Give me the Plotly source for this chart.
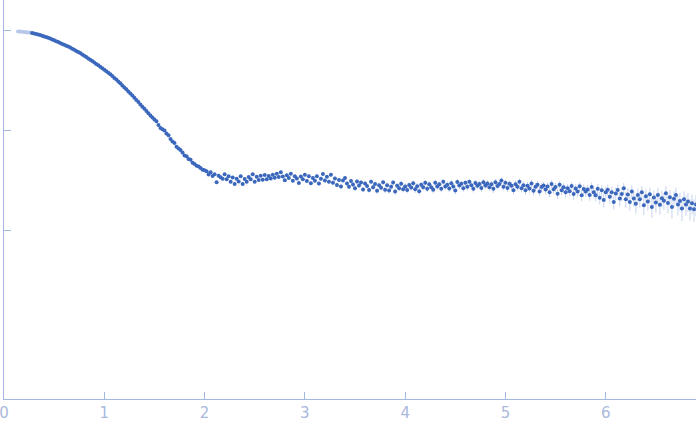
import plotly.graph_objects as go

# points left out of the fit (drawn pale)
q_excl = [0.14, 0.16, 0.18, 0.20, 0.22, 0.24, 0.26]
i_excl = [0.966, 0.964, 0.959, 0.955, 0.951, 0.946, 0.942]
err_excl = [0.0042, 0.0042, 0.0041, 0.0041, 0.0041, 0.0040, 0.0040]

q = [
    0.28, 0.30, 0.32, 0.34, 0.36, 0.38, 0.40, 0.42, 0.44, 0.46,
    0.48, 0.50, 0.52, 0.54, 0.56, 0.58, 0.60, 0.62, 0.64, 0.66,
    0.68, 0.70, 0.72, 0.74, 0.76, 0.78, 0.80, 0.82, 0.84, 0.86,
    0.88, 0.90, 0.92, 0.94, 0.96, 0.98, 1.00, 1.02, 1.04, 1.06,
    1.08, 1.10, 1.12, 1.14, 1.16, 1.18, 1.20, 1.22, 1.24, 1.26,
    1.28, 1.30, 1.32, 1.34, 1.36, 1.38, 1.40, 1.42, 1.44, 1.46,
    1.48, 1.50, 1.52, 1.54, 1.56, 1.58, 1.60, 1.62, 1.64, 1.66,
    1.68, 1.70, 1.72, 1.74, 1.76, 1.78, 1.80, 1.82, 1.84, 1.86,
    1.88, 1.90, 1.92, 1.94, 1.96, 1.98, 2.00,
    2.02, 2.04, 2.06, 2.08, 2.10, 2.12, 2.14, 2.16, 2.18, 2.20,
    2.22, 2.24, 2.26, 2.28, 2.30, 2.32, 2.34, 2.36, 2.38, 2.40,
    2.42, 2.44, 2.46, 2.48, 2.50, 2.52, 2.54, 2.56, 2.58, 2.60,
    2.62, 2.64, 2.66, 2.68, 2.70, 2.72, 2.74, 2.76, 2.78, 2.80,
    2.82, 2.84, 2.86, 2.88, 2.90, 2.92, 2.94, 2.96, 2.98, 3.00,
    3.02, 3.04, 3.06, 3.08, 3.10, 3.12, 3.14, 3.16, 3.18, 3.20,
    3.22, 3.24, 3.26, 3.28, 3.30, 3.32, 3.34, 3.36, 3.38, 3.40,
    3.42, 3.44, 3.46, 3.48, 3.50, 3.52, 3.54, 3.56, 3.58, 3.60,
    3.62, 3.64, 3.66, 3.68, 3.70, 3.72, 3.74, 3.76, 3.78, 3.80,
    3.82, 3.84, 3.86, 3.88, 3.90, 3.92, 3.94, 3.96, 3.98, 4.00,
    4.02, 4.04, 4.06, 4.08, 4.10, 4.12, 4.14, 4.16, 4.18, 4.20,
    4.22, 4.24, 4.26, 4.28, 4.30, 4.32, 4.34, 4.36, 4.38, 4.40,
    4.42, 4.44, 4.46, 4.48, 4.50, 4.52, 4.54, 4.56, 4.58, 4.60,
    4.62, 4.64, 4.66, 4.68, 4.70, 4.72, 4.74, 4.76, 4.78, 4.80,
    4.82, 4.84, 4.86, 4.88, 4.90, 4.92, 4.94, 4.96, 4.98, 5.00,
    5.02, 5.04, 5.06, 5.08, 5.10, 5.12, 5.14, 5.16, 5.18, 5.20,
    5.22, 5.24, 5.26, 5.28, 5.30, 5.32, 5.34, 5.36, 5.38, 5.40,
    5.42, 5.44, 5.46, 5.48, 5.50, 5.52, 5.54, 5.56, 5.58, 5.60,
    5.62, 5.64, 5.66, 5.68, 5.70, 5.72, 5.74, 5.76, 5.78, 5.80,
    5.82, 5.84, 5.86, 5.88, 5.90, 5.92, 5.94, 5.96, 5.98, 6.00,
    6.02, 6.04, 6.06, 6.08, 6.10, 6.12, 6.14, 6.16, 6.18, 6.20,
    6.22, 6.24, 6.26, 6.28, 6.30, 6.32, 6.34, 6.36, 6.38, 6.40,
    6.42, 6.44, 6.46, 6.48, 6.50, 6.52, 6.54, 6.56, 6.58, 6.60,
    6.62, 6.64, 6.66, 6.68, 6.70, 6.72, 6.74, 6.76, 6.78, 6.80,
    6.82, 6.84, 6.86, 6.88, 6.90,
]

intensity = [
    0.931, 0.920, 0.910, 0.899, 0.891, 0.877, 0.863, 0.849, 0.836, 0.822,
    0.805, 0.789, 0.773, 0.757, 0.741, 0.726, 0.711, 0.697, 0.683, 0.667,
    0.650, 0.634, 0.618, 0.603, 0.588, 0.570, 0.553, 0.537, 0.520, 0.504,
    0.489, 0.473, 0.458, 0.444, 0.430, 0.415, 0.401, 0.387, 0.374, 0.361,
    0.346, 0.332, 0.319, 0.306, 0.293, 0.279, 0.266, 0.255, 0.243, 0.232,
    0.221, 0.210, 0.200, 0.190, 0.180, 0.171, 0.163, 0.155, 0.147, 0.140,
    0.133, 0.127, 0.122, 0.112, 0.105, 0.102, 0.099, 0.0923, 0.0885, 0.0815,
    0.0767, 0.0740, 0.0680, 0.0653, 0.0630, 0.0596, 0.0555, 0.0545, 0.0513, 0.0505,
    0.0470, 0.0457, 0.0440, 0.0432, 0.0417, 0.0400, 0.0395,
    0.0386, 0.0358, 0.0377, 0.0347, 0.0362, 0.0300, 0.0349, 0.0337, 0.0326, 0.0361,
    0.0322, 0.0344, 0.0303, 0.0335, 0.0289, 0.0325, 0.0305, 0.0345, 0.0288, 0.0323,
    0.0304, 0.0338, 0.0322, 0.0361, 0.0304, 0.0341, 0.0316, 0.0348, 0.0318, 0.0355,
    0.0321, 0.0347, 0.0327, 0.0357, 0.0333, 0.0365, 0.0339, 0.0377, 0.0343, 0.0315,
    0.0352, 0.0331, 0.0366, 0.0311, 0.0344, 0.0328, 0.0295, 0.0342, 0.0322, 0.0357,
    0.0309, 0.0345, 0.0294, 0.0332, 0.0311, 0.0345, 0.0291, 0.0326, 0.0364, 0.0312,
    0.0341, 0.0304, 0.0356, 0.0297, 0.0328, 0.0282, 0.0317, 0.0272, 0.0312, 0.0332,
    0.0292, 0.0270, 0.0309, 0.0285, 0.0262, 0.0306, 0.0279, 0.0299, 0.0254, 0.0292,
    0.0275, 0.0251, 0.0304, 0.0268, 0.0288, 0.0247, 0.0281, 0.0265, 0.0300, 0.0252,
    0.0281, 0.0248, 0.0271, 0.0298, 0.0242, 0.0277, 0.0262, 0.0290, 0.0255, 0.0273,
    0.0251, 0.0282, 0.0266, 0.0293, 0.0255, 0.0274, 0.0244, 0.0283, 0.0267, 0.0296,
    0.0259, 0.0287, 0.0268, 0.0252, 0.0297, 0.0272, 0.0286, 0.0259, 0.0303, 0.0272,
    0.0284, 0.0260, 0.0294, 0.0272, 0.0248, 0.0302, 0.0278, 0.0290, 0.0262, 0.0296,
    0.0271, 0.0303, 0.0281, 0.0259, 0.0295, 0.0277, 0.0289, 0.0263, 0.0301, 0.0279,
    0.0292, 0.0268, 0.0286, 0.0258, 0.0300, 0.0276, 0.0288, 0.0312, 0.0270, 0.0296,
    0.0263, 0.0290, 0.0277, 0.0250, 0.0287, 0.0270, 0.0303, 0.0262, 0.0281, 0.0250,
    0.0277, 0.0260, 0.0292, 0.0247, 0.0271, 0.0284, 0.0242, 0.0269, 0.0279, 0.0254,
    0.0273, 0.0238, 0.0289, 0.0256, 0.0269, 0.0230, 0.0283, 0.0250, 0.0267, 0.0238,
    0.0261, 0.0244, 0.0275, 0.0229, 0.0260, 0.0243, 0.0274, 0.0223, 0.0257, 0.0242,
    0.0254, 0.0224, 0.0269, 0.0239, 0.0223, 0.0258, 0.0210, 0.0250, 0.0199, 0.0239,
    0.0252, 0.0215, 0.0238, 0.0191, 0.0232, 0.0251, 0.0206, 0.0229, 0.0262, 0.0203,
    0.0227, 0.0190, 0.0243, 0.0206, 0.0183, 0.0224, 0.0203, 0.0238, 0.0177, 0.0218,
    0.0193, 0.0228, 0.0170, 0.0211, 0.0188, 0.0224, 0.0179, 0.0208, 0.0196, 0.0233,
    0.0186, 0.0213, 0.0170, 0.0205, 0.0224, 0.0180, 0.0195, 0.0164, 0.0203, 0.0180,
    0.0193, 0.0164, 0.0185, 0.0161, 0.0180,
]

err = [
    0.0040, 0.0039, 0.0039, 0.0038, 0.0038, 0.0037, 0.0037, 0.0036, 0.0036, 0.0035,
    0.0035, 0.0034, 0.0034, 0.0033, 0.0033, 0.0032, 0.0032, 0.0031, 0.0031, 0.0030,
    0.0030, 0.0029, 0.0029, 0.0028, 0.0028, 0.0027, 0.0027, 0.0026, 0.0026, 0.0025,
    0.0025, 0.0024, 0.0024, 0.0023, 0.0023, 0.0022, 0.0022, 0.0021, 0.0021, 0.0020,
    0.0020, 0.0019, 0.0019, 0.0018, 0.0018, 0.0017, 0.0017, 0.0016, 0.0016, 0.0015,
    0.0015, 0.0015, 0.0014, 0.0014, 0.0014, 0.0013, 0.0013, 0.0013, 0.0012, 0.0012,
    0.0012, 0.0012, 0.0011, 0.0011, 0.0011, 0.0011, 0.0011, 0.0010, 0.0010, 0.0010,
    0.0010, 0.0010, 0.0010, 0.0010, 0.0009, 0.0009, 0.0009, 0.0009, 0.0009, 0.0009,
    0.0009, 0.0009, 0.0009, 0.0009, 0.0009, 0.0009, 0.0009,
    0.0010, 0.0011, 0.0010, 0.0011, 0.0010, 0.0011, 0.0011, 0.0010, 0.0011, 0.0011,
    0.0011, 0.0010, 0.0011, 0.0011, 0.0012, 0.0011, 0.0011, 0.0012, 0.0011, 0.0012,
    0.0012, 0.0011, 0.0012, 0.0012, 0.0011, 0.0012, 0.0012, 0.0013, 0.0012, 0.0012,
    0.0012, 0.0013, 0.0012, 0.0013, 0.0013, 0.0012, 0.0013, 0.0013, 0.0013, 0.0012,
    0.0013, 0.0013, 0.0014, 0.0013, 0.0013, 0.0014, 0.0013, 0.0014, 0.0014, 0.0013,
    0.0014, 0.0014, 0.0013, 0.0014, 0.0015, 0.0014, 0.0014, 0.0015, 0.0014, 0.0015,
    0.0015, 0.0014, 0.0015, 0.0015, 0.0016, 0.0015, 0.0015, 0.0016, 0.0015, 0.0016,
    0.0016, 0.0015, 0.0016, 0.0016, 0.0017, 0.0016, 0.0016, 0.0017, 0.0016, 0.0017,
    0.0017, 0.0016, 0.0017, 0.0017, 0.0018, 0.0017, 0.0017, 0.0018, 0.0017, 0.0018,
    0.0018, 0.0017, 0.0018, 0.0018, 0.0019, 0.0018, 0.0018, 0.0019, 0.0018, 0.0019,
    0.0019, 0.0018, 0.0019, 0.0019, 0.0020, 0.0019, 0.0019, 0.0020, 0.0019, 0.0020,
    0.0020, 0.0019, 0.0020, 0.0020, 0.0021, 0.0020, 0.0020, 0.0021, 0.0020, 0.0021,
    0.0021, 0.0020, 0.0021, 0.0021, 0.0022, 0.0021, 0.0021, 0.0022, 0.0021, 0.0022,
    0.0022, 0.0021, 0.0022, 0.0022, 0.0023, 0.0022, 0.0022, 0.0023, 0.0022, 0.0023,
    0.0023, 0.0022, 0.0023, 0.0023, 0.0024, 0.0023, 0.0023, 0.0024, 0.0023, 0.0024,
    0.0024, 0.0023, 0.0024, 0.0024, 0.0025, 0.0024, 0.0024, 0.0025, 0.0024, 0.0025,
    0.0025, 0.0024, 0.0025, 0.0025, 0.0026, 0.0025, 0.0025, 0.0026, 0.0025, 0.0026,
    0.0026, 0.0025, 0.0026, 0.0026, 0.0027, 0.0026, 0.0026, 0.0027, 0.0026, 0.0027,
    0.0027, 0.0026, 0.0027, 0.0028, 0.0027, 0.0028, 0.0028, 0.0029, 0.0028, 0.0029,
    0.0029, 0.0028, 0.0030, 0.0029, 0.0030, 0.0031, 0.0030, 0.0031, 0.0032, 0.0031,
    0.0032, 0.0031, 0.0033, 0.0032, 0.0034, 0.0033, 0.0034, 0.0035, 0.0034, 0.0036,
    0.0035, 0.0034, 0.0036, 0.0035, 0.0037, 0.0036, 0.0035, 0.0037, 0.0036, 0.0038,
    0.0037, 0.0036, 0.0038, 0.0037, 0.0039, 0.0038, 0.0037, 0.0039, 0.0038, 0.0040,
    0.0039, 0.0038, 0.0040, 0.0039, 0.0041, 0.0040, 0.0039, 0.0041, 0.0040, 0.0042,
    0.0041, 0.0040, 0.0042, 0.0041, 0.0043,
]

x_ticks = [0, 1, 2, 3, 4, 5, 6]
y_ticks = [1, 0.1, 0.01]

axis_col = "#a3b6e0"
label_col = "#a9b9dc"

fig = go.Figure()

fig.add_trace(go.Scatter(
    x=q_excl, y=i_excl, mode="markers",
    error_y=dict(type="data", array=err_excl, color="rgba(181,198,232,0.5)",
                 thickness=1, width=0),
    marker=dict(color="#b7c7e8", size=4),
))

fig.add_trace(go.Scatter(
    x=q, y=intensity, mode="markers",
    error_y=dict(type="data", array=err, color="rgba(70,110,195,0.3)",
                 thickness=1, width=0),
    marker=dict(color="#3b68bd", size=4),
))

fig.update_layout(
    width=696, height=437,
    margin=dict(l=4, r=0, t=0, b=38, autoexpand=False),
    paper_bgcolor="white", plot_bgcolor="white",
    showlegend=False,
    font=dict(family="DejaVu Sans", size=15, color=label_col),
)

fig.update_xaxes(
    range=[0, 6.9], tickvals=x_ticks, ticks="inside", ticklen=7,
    tickcolor=axis_col, showline=True, linecolor=axis_col, linewidth=1,
    showgrid=False, zeroline=False, automargin=False,
    ticklabeloverflow="allow",
    tickfont=dict(family="DejaVu Sans", size=15, color=label_col),
)

fig.update_yaxes(
    type="log", range=[-3.69, 0.30], tickvals=y_ticks, ticks="inside",
    ticklen=7, tickcolor=axis_col, showline=True, linecolor=axis_col,
    linewidth=1, showgrid=False, zeroline=False, showticklabels=False,
    automargin=False,
)

# page body has a default 8px margin; drop it so the figure sits at 0,0
fig.write_html("out.html", config={"displayModeBar": False},
               post_script="document.body.style.margin='0';")
